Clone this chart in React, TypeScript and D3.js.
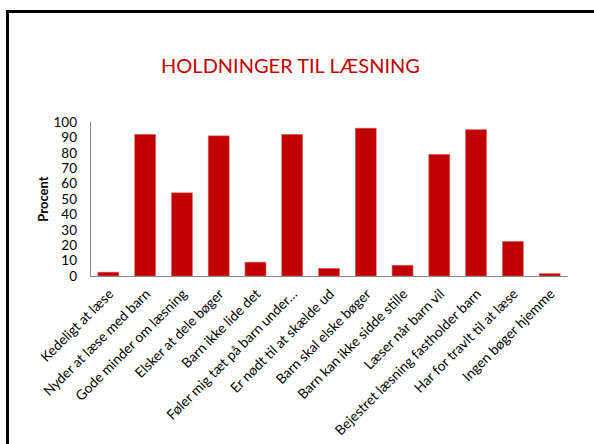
import React from 'react';
import * as d3 from 'd3';

const categories = [
  'Kedeligt at læse',
  'Nyder at læse med barn',
  'Gode minder om læsning',
  'Elsker at dele bøger',
  'Barn ikke lide det',
  'Føler mig tæt på barn under…',
  'Er nødt til at skælde ud',
  'Barn skal elske bøger',
  'Barn kan ikke sidde stille',
  'Læser når barn vil',
  'Bejestret læsning fastholder barn',
  'Har for travlt til at læse',
  'Ingen bøger hjemme',
];
const procent = [2.5, 92, 54, 91, 9, 92, 5, 96, 7, 79, 95, 22.5, 1.5];
const yTicks = [0, 10, 20, 30, 40, 50, 60, 70, 80, 90, 100];

const W = 594;
const H = 444;
const margin = { left: 90, right: 26, top: 122, bottom: 168 };
const font = 'Lato, "Open Sans", sans-serif';

const App: React.FC = () => {
  const x = d3.scaleBand<string>()
    .domain(categories)
    .range([margin.left, W - margin.right])
    .paddingInner(0.43)
    .paddingOuter(0.215);

  const y = d3.scaleLinear()
    .domain([0, 100])
    .range([H - margin.bottom, margin.top]);

  const y0 = y(0);

  return (
    <svg width={W} height={H} style={{ position: 'absolute', left: 0, top: 0, fontFamily: font }}>
      <rect x={0} y={0} width={W} height={H} fill="#fff" />
      {/* slide frame */}
      <rect x={7.5} y={11.5} width={W + 20} height={H + 20} fill="none" stroke="#000" strokeWidth={3} />

      <text x={290.5} y={73} textAnchor="middle" fontSize={20} fill="#C00000">
        HOLDNINGER TIL LÆSNING
      </text>

      {/* y axis */}
      <line x1={margin.left + 0.5} x2={margin.left + 0.5} y1={y(100)} y2={y0} stroke="#888" strokeWidth={1} />
      {yTicks.map(t => (
        <text key={t} x={77} y={y(t)} dy="0.36em" textAnchor="end" fontSize={13.5} fill="#000">
          {t}
        </text>
      ))}
      <text
        transform={`translate(43,${(y(0) + y(100)) / 2}) rotate(-90)`}
        textAnchor="middle"
        dy="0.35em"
        fontSize={13}
        fontWeight="bold"
      >
        Procent
      </text>

      {/* bars */}
      {categories.map((c, i) => (
        <rect
          key={c}
          x={x(c)}
          y={y(procent[i])}
          width={x.bandwidth()}
          height={y0 - y(procent[i])}
          fill="#C00000"
          stroke="#E06666"
          strokeWidth={0.6}
        />
      ))}

      {/* x axis */}
      <line x1={margin.left} x2={W - margin.right} y1={y0 + 0.5} y2={y0 + 0.5} stroke="#888" strokeWidth={1.2} />
      {categories.map(c => {
        const cx = (x(c) ?? 0) + x.bandwidth() / 2 + 3;
        return (
          <text
            key={c}
            transform={`translate(${cx},${y0 + 16}) rotate(-45)`}
            textAnchor="end"
            dy="0.3em"
            fontSize={13.8}
            fill="#000"
          >
            {c}
          </text>
        );
      })}
    </svg>
  );
};

export default App;
